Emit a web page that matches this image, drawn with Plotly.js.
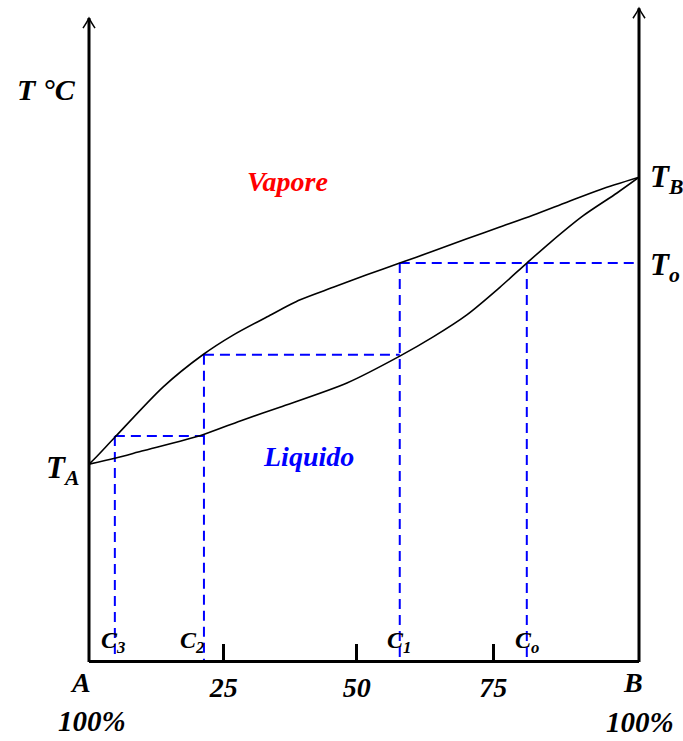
<!DOCTYPE html>
<html>
<head>
<meta charset="utf-8">
<script src="https://cdn.plot.ly/plotly-3.0.1.min.js"></script>
<style>html,body{margin:0;padding:0;background:#fff;}#chart{width:683px;height:741px;}</style>
</head>
<body>
<div id="chart"></div>
<script>
// Composition (% B) and temperature (arbitrary units)
const TA = 29.9;
const TB = 73.7;
const vaporX = [0, 1.1, 4.7, 13.5, 20.7, 26.2, 32.4, 38.4, 44.4, 50.5, 56.5, 62.5, 68.7, 74.7, 80.7, 86.9, 92.9, 100];
const vaporT = [29.9, 30.8, 34.0, 41.7, 46.6, 49.6, 52.4, 55.0, 56.9, 58.8, 60.6, 62.4, 64.3, 66.1, 67.9, 69.9, 71.8, 73.7];
const liquidX = [0, 4.7, 9.6, 20.7, 27.5, 34.7, 46.9, 56.5, 62.5, 68.7, 74.7, 79.6, 83.8, 89.8, 96.0, 100];
const liquidT = [29.9, 30.8, 31.9, 34.4, 36.5, 38.6, 42.3, 46.4, 49.3, 52.7, 56.9, 60.6, 63.7, 67.8, 71.3, 73.7];
// construction (tie) lines
const compC = {C0: 79.6, C1: 56.5, C2: 20.9, C3: 4.7};
const levels = {To: 60.6, T1: 46.6, T2: 34.2};
// axis ticks
const tickPos = [24.5, 48.7, 73.5];
const tickText = ['25', '50', '75'];
const cLabels = ['C<sub>3</sub>', 'C<sub>2</sub>', 'C<sub>1</sub>', 'C<sub>o</sub>'];
const cLabelX = [4.45, 18.7, 56.3, 79.6];

const FF = 'Liberation Serif, Times New Roman, serif';
const blueDash = {color: '#0000ff', width: 2, dash: '10px,6px'};

const dashSegs = [
  [[compC.C1, 100], [levels.To, levels.To]],
  [[compC.C1, compC.C1], [levels.To, 0]],
  [[compC.C0, compC.C0], [levels.To, 0]],
  [[compC.C2, compC.C1], [levels.T1, levels.T1]],
  [[compC.C2, compC.C2], [levels.T1, 0]],
  [[compC.C3, compC.C2], [levels.T2, levels.T2]],
  [[compC.C3, compC.C3], [levels.T2, 0]]
];

const traces = dashSegs.map(s => ({x: s[0], y: s[1], mode: 'lines', line: blueDash, hoverinfo: 'skip'}));
traces.push({x: vaporX, y: vaporT, mode: 'lines', line: {color: '#000', width: 1.6, shape: 'spline', smoothing: 0.8}});
traces.push({x: liquidX, y: liquidT, mode: 'lines', line: {color: '#000', width: 1.6, shape: 'spline', smoothing: 0.8}});

function font(size, color, weight) {
  return {family: FF, size: size, color: color || '#000', weight: weight || 'bold', style: 'italic'};
}
function txt(text, x, y, size, opts) {
  return Object.assign({text: text, x: x, y: y, xref: 'x', yref: 'y', showarrow: false, font: font(size)}, opts || {});
}
function ptxt(text, x, y, size, opts) {
  return Object.assign({text: text, x: x, y: y, xref: 'paper', yref: 'paper', xanchor: 'center', yanchor: 'middle',
    showarrow: false, font: font(size)}, opts || {});
}

const annotations = [
  ptxt('T °C', -0.078, 0.871, 30),
  txt('Vapore', 36.0, 73.1, 28, {font: font(28, '#ff0000')}),
  txt('Liquido', 39.9, 31.1, 28, {font: font(28, '#0000ff')}),
  txt('T<sub>A</sub>', 0, TA, 31, {xanchor: 'right', xshift: -8, yshift: -6}),
  txt('T<sub>B</sub>', 100, TB, 31, {xanchor: 'left', xshift: 9, yshift: -2}),
  txt('T<sub>o</sub>', 100, levels.To, 31, {xanchor: 'left', xshift: 9, yshift: -4}),
  ptxt('A', -0.016, -0.034, 28),
  ptxt('B', 0.989, -0.034, 28),
  ptxt('100%', 0.0055, -0.093, 29),
  ptxt('100%', 1.068, -0.094, 29, {xanchor: 'right'})
];
cLabels.forEach((t, i) => annotations.push(txt(t, cLabelX[i], 2.7, 24, {font: font(24, '#000', 'bold')})));

const layout = {
  width: 683, height: 741,
  margin: {l: 89, r: 44, t: 5, b: 81},
  paper_bgcolor: '#fff', plot_bgcolor: '#fff',
  showlegend: false,
  xaxis: {range: [0, 100], showgrid: false, zeroline: false, showline: true, linecolor: '#000', linewidth: 3,
    ticks: 'inside', ticklen: 16, tickwidth: 3, tickcolor: '#000', tickvals: tickPos, ticktext: tickText,
    tickfont: font(28), ticklabelstandoff: 0, fixedrange: true},
  yaxis: {range: [0, 100], visible: false, fixedrange: true},
  shapes: [
    {type: 'line', xref: 'paper', yref: 'paper', x0: 0, x1: 0, y0: -0.003, y1: 0.98, line: {color: '#000', width: 3}},
    {type: 'line', xref: 'paper', yref: 'paper', x0: 1, x1: 1, y0: -0.003, y1: 0.995, line: {color: '#000', width: 3}},
    {type: 'path', xref: 'paper', yref: 'paper', xsizemode: 'pixel', ysizemode: 'pixel', xanchor: 0, yanchor: 0.98,
      path: 'M-6,-10 Q-2,-4 0,0 Q2,-4 6,-10', line: {color: '#000', width: 1.5}},
    {type: 'path', xref: 'paper', yref: 'paper', xsizemode: 'pixel', ysizemode: 'pixel', xanchor: 1, yanchor: 0.995,
      path: 'M-6,-10 Q-2,-4 0,0 Q2,-4 6,-10', line: {color: '#000', width: 1.5}}
  ],
  annotations: annotations
};

Plotly.newPlot('chart', traces, layout, {staticPlot: true, displayModeBar: false});
</script>
</body>
</html>
